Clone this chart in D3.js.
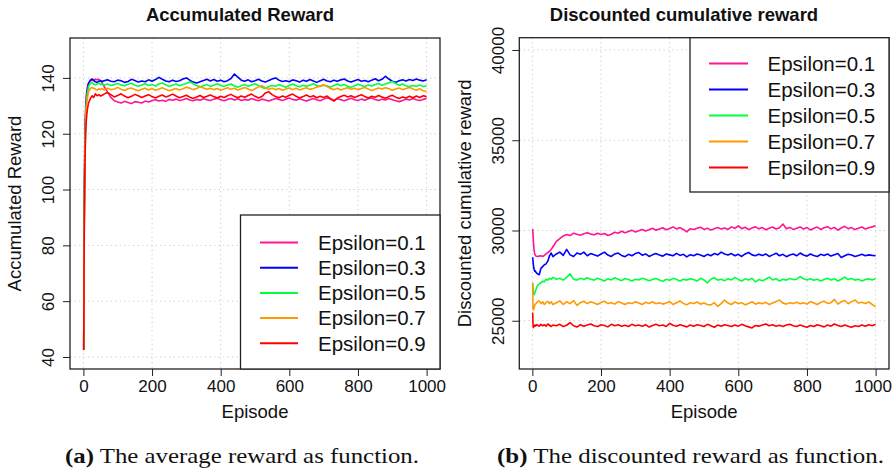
<!DOCTYPE html>
<html><head><meta charset="utf-8">
<script src="https://cdn.jsdelivr.net/npm/d3@7"></script>
<style>
html,body{margin:0;padding:0;background:#fff;}
svg{display:block;}
</style></head>
<body>
<svg id="chart" width="893" height="470"></svg>
<script>
// ---------------- DATA ----------------
const episodes = [1,2,3,4,5,6,7,8,10,12,15,20,25,30,35,40,45,50,55,60,
70,80,90,100,110,120,130,140,150,160,
170,180,190,200,210,220,230,240,250,260,
270,280,290,300,310,320,330,340,350,360,
370,380,390,400,410,420,430,440,450,460,
470,480,490,500,510,520,530,540,550,560,
570,580,590,600,610,620,630,640,650,660,
670,680,690,700,710,720,730,740,750,760,
770,780,790,800,810,820,830,840,850,860,
870,880,890,900,910,920,930,940,950,960,
970,980,990,1000];

const seriesLabels = ["Epsilon=0.1","Epsilon=0.3","Epsilon=0.5","Epsilon=0.7","Epsilon=0.9"];
const seriesColors = ["#ff1493","#0000ff","#00ff40","#ff9900","#ff0000"];

// (a) accumulated reward
const avgEps01 = [42.5,82,102,114,122,127,130.5,133,135.5,137,138.2,138.9,139.2,139.0,139.6,139.3,139.5,139.0,138.2,137.0,
135.0,133.0,131.8,131.4,131.0,131.6,131.2,130.8,131.5,131.3,
131.0,131.7,131.4,131.9,132.2,131.7,132.0,131.6,132.3,132.0,
132.4,131.9,132.2,132.6,132.1,131.8,132.3,132.0,132.5,132.2,
131.9,132.4,132.7,132.2,131.8,132.3,132.6,132.1,132.5,131.9,
132.3,132.0,132.6,132.2,131.8,132.4,132.1,131.7,132.2,132.6,
132.3,131.9,132.4,132.8,132.3,132.0,132.5,132.1,131.7,132.2,
132.6,132.2,131.8,132.4,132.9,132.4,132.0,132.5,132.2,131.8,
132.3,132.7,132.2,131.9,132.4,132.0,132.5,132.8,132.3,131.9,
132.4,132.1,132.6,132.2,131.8,131.5,131.9,132.4,132.1,132.6,
132.2,131.9,132.3,132.6];
const avgEps03 = [42.5,80,100,112,120,125,128.5,131,134,136,138,139.2,139.6,139.2,138.6,138.4,138.8,139.0,138.7,139.0,
139.3,138.8,138.6,139.2,139.0,138.4,138.7,139.5,139.1,138.5,
138.9,138.6,139.3,138.8,139.4,140.2,139.5,138.9,138.6,139.2,
138.7,139.0,139.6,140.0,139.2,138.5,138.2,138.6,139.1,139.5,
138.9,139.4,138.8,139.2,138.6,139.0,139.8,141.4,140.3,139.2,
138.8,139.3,138.6,139.0,139.5,138.9,138.5,139.1,139.6,140.0,
139.2,138.7,139.0,138.6,139.3,139.0,138.5,139.2,138.8,139.4,
138.9,138.4,139.0,139.5,138.9,138.6,139.2,138.8,139.3,139.6,
138.9,138.5,139.0,139.4,138.8,139.1,138.6,139.2,139.7,139.0,
139.5,140.6,139.6,138.8,138.4,139.0,139.3,138.9,139.4,139.1,
139.6,139.2,138.9,139.3];
const avgEps05 = [42.5,78,98,110,118,123,127,130,133,135,137,138.0,138.3,137.8,137.5,137.8,138.2,137.6,137.9,137.4,
137.8,137.3,137.6,138.0,137.5,137.2,137.7,138.1,137.4,137.0,
137.5,137.9,137.3,137.6,137.1,137.8,138.2,137.5,137.0,137.4,
137.8,137.2,137.6,138.0,138.6,137.9,137.3,136.8,137.2,137.6,
137.0,137.4,137.9,137.3,136.9,137.5,137.8,137.1,136.7,137.2,
137.6,137.0,137.5,137.9,137.2,136.6,136.2,136.8,137.3,137.0,
137.6,137.1,136.7,137.3,137.8,137.2,136.8,137.4,137.0,137.5,
137.9,137.3,136.9,137.4,137.1,136.7,137.3,137.8,137.2,137.6,
137.0,136.6,137.2,137.7,137.3,136.9,137.5,137.1,137.6,138.0,
137.4,137.8,138.3,138.7,138.0,137.4,137.8,137.2,136.8,137.3,
137.0,137.5,136.9,137.2];
const avgEps07 = [42.5,76,96,108,116,121,125,128,131,133,135,136.2,136.6,136.3,136.0,135.6,136.1,135.8,136.2,135.7,
136.3,135.8,136.0,136.6,135.9,135.5,136.1,136.4,135.8,135.4,
135.9,136.3,135.7,136.2,135.6,136.0,136.5,135.9,135.4,135.8,
136.2,135.7,136.1,136.7,136.3,135.8,136.2,136.8,136.4,135.9,
136.3,135.8,136.2,135.6,136.0,136.5,135.9,136.3,135.7,136.1,
136.6,136.0,135.5,136.1,136.8,137.2,136.5,135.9,136.3,135.8,
136.2,135.6,136.0,136.4,135.8,136.3,135.7,136.1,136.5,135.9,
136.2,136.7,137.1,137.6,136.9,136.2,135.8,136.3,135.7,136.1,
136.5,135.9,136.3,135.8,136.2,136.6,136.0,135.5,135.9,136.4,
136.0,136.5,136.1,135.6,136.0,136.4,135.8,136.2,136.6,136.0,
135.6,136.1,135.4,135.1];
const avgEps09 = [42.5,72,92,104,112,117,121,124,127,129,131,132.5,133.6,133.0,134.3,133.6,134.0,133.5,133.8,134.2,
134.8,134.0,133.2,133.7,134.3,133.5,132.9,133.4,134.1,133.6,
133.0,133.5,134.0,133.3,132.8,133.4,133.9,133.2,133.6,134.2,
133.5,132.9,133.3,133.8,133.1,132.6,133.2,133.7,133.0,133.4,
133.9,133.3,132.8,133.4,133.0,133.6,134.1,133.4,132.9,133.5,
133.1,133.7,134.2,133.4,132.8,133.3,134.6,135.0,134.0,133.3,
132.9,133.5,133.1,133.8,134.2,133.4,132.8,133.3,133.9,133.2,
133.6,132.9,133.4,133.0,133.5,132.6,131.7,132.8,133.3,133.8,
133.2,133.6,133.0,133.5,134.0,133.3,132.8,133.4,133.1,133.7,
133.2,132.7,133.3,133.8,133.1,132.6,133.2,132.8,133.4,132.9,
133.5,133.0,133.6,133.3];

// (b) discounted cumulative reward
const discEps01 = [30090,29800,29450,29150,28950,28800,28700,28650,28600,28570,28560,28580,28600,28560,28620,28700,28780,28850,28950,29100,
29400,29550,29700,29780,29720,29850,29790,29740,29820,29880,
29800,29760,29850,29780,29830,29720,29790,29900,29850,29960,
29880,29950,30020,29920,29980,30060,29970,30040,30120,30020,
30080,30150,30040,30110,30200,30090,30150,30060,29920,30100,
30050,30120,30180,30060,30130,30020,30100,30160,30080,30140,
30060,30200,30120,30260,30100,30180,30050,30140,30200,30090,
30160,30040,30120,30190,30080,30150,30360,30100,30170,30060,
30130,30200,30080,30160,30030,30120,30190,30060,30150,30210,
30090,30170,30020,30140,30230,30100,30160,30050,30120,30190,
30080,30150,30200,30260];
const discEps03 = [28520,28300,28100,27950,27850,27800,27750,27780,27700,27650,27600,27550,27900,28000,28100,28150,28300,28600,28750,28550,
28700,28800,28620,28950,28650,28560,28750,28680,28800,28600,
28720,28650,28580,28700,28800,28640,28560,28700,28750,28620,
28550,28680,28600,28720,28780,28630,28700,28560,28650,28720,
28640,28580,28700,28650,28600,28730,28620,28680,28540,28660,
28600,28700,28640,28560,28680,28600,28720,28650,28800,28700,
28640,28720,28600,28680,28560,28700,28780,28650,28600,28690,
28620,28700,28560,28650,28740,28600,28680,28550,28640,28700,
28600,28750,28640,28580,28700,28620,28560,28680,28620,28700,
28580,28650,28720,28500,28600,28680,28640,28560,28620,28680,
28600,28650,28620,28600];
const discEps05 = [27100,26800,26600,26500,26450,26480,26550,26600,26700,26800,26950,27050,27100,27200,27150,27300,27250,27350,27300,27400,
27300,27350,27250,27400,27600,27300,27250,27350,27280,27380,
27300,27250,27350,27280,27200,27320,27260,27380,27300,27220,
27340,27280,27200,27300,27260,27350,27300,27220,27280,27340,
27260,27180,27300,27240,27350,27280,27200,27300,27250,27320,
27280,27200,27350,27260,27100,27300,27380,27250,27300,27220,
27330,27260,27400,27290,27200,27320,27250,27350,27150,27280,
27220,27300,27420,27260,27330,27200,27300,27250,27340,27280,
27300,27450,27320,27260,27330,27240,27300,27200,27280,27350,
27260,27330,27200,27300,27420,27280,27340,27250,27300,27200,
27280,27320,27260,27340];
const discEps07 = [27100,25700,25600,25650,25700,25800,25850,25900,25950,25980,26050,26100,25950,26050,25900,26000,26080,25950,26050,25900,
26000,26100,25900,26050,25950,26120,25850,26000,26080,25950,
26050,25980,25900,26020,26080,25950,26000,25920,26060,25980,
25900,26000,25950,26050,25980,25900,26020,25960,26050,25940,
26000,25920,25980,26060,25900,26000,26100,25950,25880,26000,
25960,26040,25920,25980,25900,25880,26000,25800,25950,26150,
25980,25900,26040,25950,26000,25880,25960,26050,25920,25990,
25940,26020,25900,25980,26060,26150,25980,25920,26000,25950,
26020,25940,26000,25920,26060,25980,25900,26020,26080,25960,
26000,26180,25920,26050,26120,25940,26060,26150,25980,26020,
25950,26040,25900,25780];
const discEps09 = [25450,24800,24620,24680,24720,24750,24700,24760,24720,24780,24750,24700,24800,24720,24780,24700,24820,24750,24680,24760,
24720,24800,24680,24750,24900,24720,24650,24780,24700,24760,
24820,24720,24680,24780,24740,24660,24800,24720,24780,24700,
24750,24680,24800,24720,24760,24700,24780,24650,24740,24800,
24720,24760,24680,24850,24750,24700,24780,24720,24660,24760,
24700,24780,24740,24680,24800,24720,24640,24760,24700,24780,
24740,24680,24760,24700,24800,24720,24660,24600,24740,24700,
24760,24820,24720,24780,24700,24750,24680,24760,24800,24720,
24680,24760,24700,24640,24740,24680,24780,24720,24660,24760,
24700,24820,24740,24680,24760,24700,24640,24720,24680,24760,
24700,24780,24720,24800];

const xTickValues = [0,200,400,600,800,1000];
const avgYTicks = [40,60,80,100,120,140];
const discYTicks = [25000,30000,35000,40000];

// ---------------- DRAW ----------------
const svg = d3.select("#chart");
const FONT = "'Liberation Sans', Arial, Helvetica, sans-serif";
const W = 893;

function panel(cfg) {
  const x = d3.scaleLinear().domain(cfg.xDomain).range([cfg.left, cfg.right]);
  const y = d3.scaleLinear().domain(cfg.yDomain).range([cfg.bottom, cfg.top]);
  const g = svg.append("g");

  // grid
  g.append("g").selectAll("line").data(xTickValues).join("line")
    .attr("x1", d => x(d)).attr("x2", d => x(d))
    .attr("y1", cfg.top).attr("y2", cfg.bottom)
    .attr("stroke", "#d3d3d3").attr("stroke-width", 1).attr("stroke-dasharray", "1.5,3");
  g.append("g").selectAll("line").data(cfg.yTicks).join("line")
    .attr("x1", cfg.left).attr("x2", cfg.right)
    .attr("y1", d => y(d)).attr("y2", d => y(d))
    .attr("stroke", "#d3d3d3").attr("stroke-width", 1).attr("stroke-dasharray", "1.5,3");

  // lines
  const line = d3.line().x((d, i) => x(episodes[i])).y(d => y(d));
  const lg = g.append("g");
  cfg.series.forEach((s, k) => {
    lg.append("path").datum(s).attr("d", line)
      .attr("fill", "none").attr("stroke", seriesColors[k])
      .attr("stroke-width", 1.6).attr("stroke-linejoin", "round");
  });

  // axes
  const xAxis = d3.axisBottom(x).tickValues(xTickValues).tickSize(7).tickSizeOuter(0).tickFormat(d3.format("d"));
  const xa = g.append("g").attr("transform", `translate(0,${cfg.bottom})`).call(xAxis);
  xa.select(".domain").remove();
  xa.selectAll(".tick line").attr("stroke", "#222");
  xa.selectAll(".tick text").attr("y", 17.5).attr("dy", "0.35em")
    .attr("font-family", FONT).attr("font-size", cfg.tickFont).attr("fill", "#111");
  // keep the last label inside the picture
  xa.selectAll(".tick").each(function () {
    const t = d3.select(this).select("text");
    const b = this.getBoundingClientRect ? t.node().getBoundingClientRect() : null;
    if (b && b.right > W - 1) t.attr("dx", -(b.right - (W - 1)));
  });

  const yAxis = d3.axisLeft(y).tickValues(cfg.yTicks).tickSize(7).tickSizeOuter(0).tickFormat(d3.format("d"));
  const ya = g.append("g").attr("transform", `translate(${cfg.left},0)`).call(yAxis);
  ya.select(".domain").remove();
  ya.selectAll(".tick line").attr("stroke", "#222");
  ya.selectAll(".tick text").attr("transform", "rotate(-90)")
    .attr("x", 0).attr("y", -cfg.yLabelOff).attr("dy", "0.35em")
    .attr("text-anchor", "middle")
    .attr("font-family", FONT).attr("font-size", cfg.tickFont).attr("fill", "#111");

  // box
  g.append("rect").attr("x", cfg.left).attr("y", cfg.top)
    .attr("width", cfg.right - cfg.left).attr("height", cfg.bottom - cfg.top)
    .attr("fill", "none").attr("stroke", "#222").attr("stroke-width", 1.3);

  // titles
  g.append("text").attr("x", cfg.titleX).attr("y", 20.5).attr("text-anchor", "middle")
    .attr("font-family", FONT).attr("font-weight", "bold").attr("font-size", 18.5)
    .attr("fill", "#111").text(cfg.title);
  g.append("text").attr("x", (cfg.left + cfg.right) / 2).attr("y", 417.5).attr("text-anchor", "middle")
    .attr("font-family", FONT).attr("font-size", 18.5).attr("fill", "#111").text("Episode");
  g.append("text").attr("transform", `translate(${cfg.yTitleX},${(cfg.top + cfg.bottom) / 2}) rotate(-90)`)
    .attr("text-anchor", "middle").attr("dy", "0.35em")
    .attr("font-family", FONT).attr("font-size", 18.5).attr("fill", "#111").text(cfg.yTitle);

  // legend
  const L = cfg.legend;
  g.append("rect").attr("x", L.x0).attr("y", L.y0).attr("width", L.x1 - L.x0).attr("height", L.y1 - L.y0)
    .attr("fill", "#fff").attr("stroke", "#222").attr("stroke-width", 1.3);
  const items = g.append("g").selectAll("g").data(seriesLabels).join("g")
    .attr("transform", (d, i) => `translate(0,${L.firstRow + i * L.step})`);
  items.append("line").attr("x1", L.lineX0).attr("x2", L.lineX1).attr("y1", 0).attr("y2", 0)
    .attr("stroke", (d, i) => seriesColors[i]).attr("stroke-width", 2);
  items.append("text").attr("x", L.textX).attr("y", 0).attr("dy", "0.36em")
    .attr("font-family", FONT).attr("font-size", 20.5).attr("fill", "#111").text(d => d);
}

panel({
  left: 70, right: 440, top: 38, bottom: 369,
  xDomain: [-39, 1039], yDomain: [35.7, 154.3], yTicks: avgYTicks,
  series: [avgEps01, avgEps03, avgEps05, avgEps07, avgEps09],
  title: "Accumulated Reward", titleX: 240,
  yTitle: "Accumulated Reward", yTitleX: 15, yLabelOff: 22, tickFont: 17,
  legend: { x0: 240.5, x1: 440, y0: 215, y1: 369, firstRow: 242.5, step: 25.2, lineX0: 260, lineX1: 298, textX: 318 }
});
panel({
  left: 519.3, right: 889, top: 37.7, bottom: 369,
  xDomain: [-38, 1039], yDomain: [22326, 40681], yTicks: discYTicks,
  series: [discEps01, discEps03, discEps05, discEps07, discEps09],
  title: "Discounted cumulative reward", titleX: 684,
  yTitle: "Discounted cumulative reward", yTitleX: 465, yLabelOff: 21.5, tickFont: 17,
  legend: { x0: 690, x1: 889, y0: 37.7, y1: 192, firstRow: 63.5, step: 26, lineX0: 709, lineX1: 748, textX: 767.5 }
});

// captions
const SERIF = "'Liberation Serif', 'Times New Roman', serif";
const cap = svg.append("g").attr("font-family", SERIF).attr("font-size", 21).attr("fill", "#111");
const ca = cap.append("text").attr("x", 65).attr("y", 463)
  .attr("textLength", 354).attr("lengthAdjust", "spacingAndGlyphs");
ca.append("tspan").attr("font-weight", "bold").text("(a)");
ca.append("tspan").text(" The average reward as function.");
const cb = cap.append("text").attr("x", 497).attr("y", 463)
  .attr("textLength", 387).attr("lengthAdjust", "spacingAndGlyphs");
cb.append("tspan").attr("font-weight", "bold").text("(b)");
cb.append("tspan").text(" The discounted reward as function.");
</script>
</body></html>
